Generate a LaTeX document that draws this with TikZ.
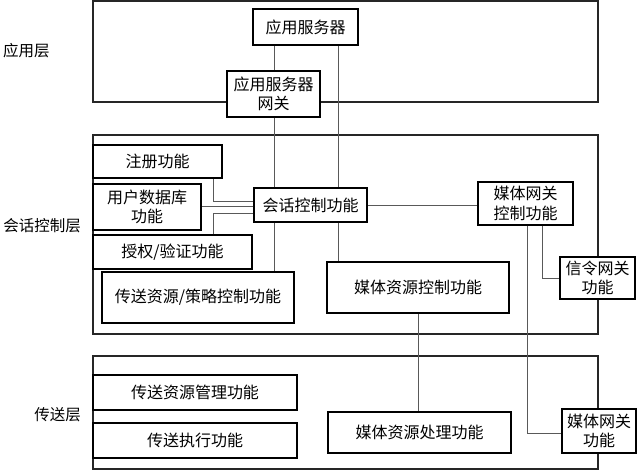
\documentclass[tikz,border=0pt]{standalone}
\usepackage{fontspec}
\newfontfamily\cjk{Noto Sans CJK SC}
\usepackage{xcolor}
\usepackage{tikz}
\usetikzlibrary{positioning, calc}
\tikzset{
  func/.style={rectangle, draw=black, line width=1.5pt, fill=white, align=center,
               inner sep=1pt, font=\cjk\fontsize{16}{19.5}\selectfont},
  layer/.style={rectangle, draw=black!85, line width=1.3pt, inner sep=0pt},
  layerlabel/.style={font=\cjk\fontsize{15.5}{19}\selectfont, inner sep=0pt},
  conn/.style={draw=black!65, line width=0.9pt},
}
\begin{document}
\begin{tikzpicture}[x=1pt, y=-1pt]
  \useasboundingbox (0,0) rectangle (638,471);

  % layers
  \node[layer, minimum width=505pt, minimum height=101pt] (applayer)  at (345.5,51.5) {};
  \node[layer, minimum width=505pt, minimum height=199pt] (sesslayer) at (345.5,234.5) {};
  \node[layer, minimum width=505pt, minimum height=113pt] (tlayer)    at (345.5,412.5) {};
  \node[layerlabel, anchor=west] (applbl)  at (3,51)   {应用层};
  \node[layerlabel, anchor=east] (sesslbl) at (81,226) {会话控制层};
  \node[layerlabel, anchor=east] (tlbl)    at (81,415) {传送层};

  \coordinate (busA) at (274,0);
  \coordinate (busB) at (338,0);
  \coordinate (busC) at (213,0);
  \coordinate (busD) at (542,0);
  \coordinate (busE) at (527,0);

  \node[func, minimum width=105pt, minimum height=36pt] (appsrv)  at (305.5,27)   {应用服务器};
  \node[func, minimum width=93pt,  minimum height=46pt] (appgw)   at (273.5,94)   {应用服务器\\网关};
  \node[func, minimum width=129pt, minimum height=33pt] (reg)     at (157.5,161.5){注册功能};
  \node[func, minimum width=108pt, minimum height=46pt] (userdb)  at (147,207)    {用户数据库\\功能};
  \node[func, minimum width=159pt, minimum height=34pt] (auth)    at (172.5,252)  {授权/验证功能};
  \node[func, minimum width=192pt, minimum height=51pt] (tpolicy) at (198,297.5)  {传送资源/策略控制功能};
  \node[func, minimum width=113pt, minimum height=34pt] (sessctl) at (310.5,205)  {会话控制功能};
  \node[func, minimum width=95pt,  minimum height=43pt] (mgc)     at (525.5,203.5){媒体网关\\控制功能};
  \node[func, minimum width=182pt, minimum height=51pt] (mrc)     at (418,287.5)  {媒体资源控制功能};
  \node[func, minimum width=75pt,  minimum height=42pt] (sgw)     at (597.5,278)  {信令网关\\功能};
  \node[func, minimum width=204pt, minimum height=35pt] (trm)     at (195,392.5)  {传送资源管理功能};
  \node[func, minimum width=204pt, minimum height=35pt] (texec)   at (195,440.5)  {传送执行功能};
  \node[func, minimum width=183pt, minimum height=41pt] (mrp)     at (419.5,432.5){媒体资源处理功能};
  \node[func, minimum width=74pt,  minimum height=44pt] (mgw)     at (599,431)    {媒体网关\\功能};

  \draw[conn] (appsrv.south -| busA) -- (appgw.north -| busA);
  \draw[conn] (appgw.south -| busA) -- (sessctl.north -| busA);
  \draw[conn] (appsrv.south -| busB) -- (sessctl.north -| busB);
  \draw[conn] (reg.south -| busC) |- ([yshift=4pt]sessctl.west);
  \draw[conn] ([yshift=-1pt]sessctl.west) -- ([yshift=-1pt]sessctl.west -| userdb.east);
  \draw[conn] (auth.north -| busC) |- ([yshift=-8pt]sessctl.west);
  \draw[conn] (sessctl.south -| busA) -- (tpolicy.north -| busA);
  \draw[conn] (sessctl.south -| busB) -- (mrc.north -| busB);
  \draw[conn] (sessctl.east) -- (sessctl.east -| mgc.west);
  \draw[conn] (mgc.south -| busD) |- (sgw.west);
  \draw[conn] (mgc.south -| busE) |- ([yshift=-2pt]mgw.west);
  \draw[conn] (mrc.south) -- (mrp.north -| mrc.south);
\end{tikzpicture}
\end{document}
